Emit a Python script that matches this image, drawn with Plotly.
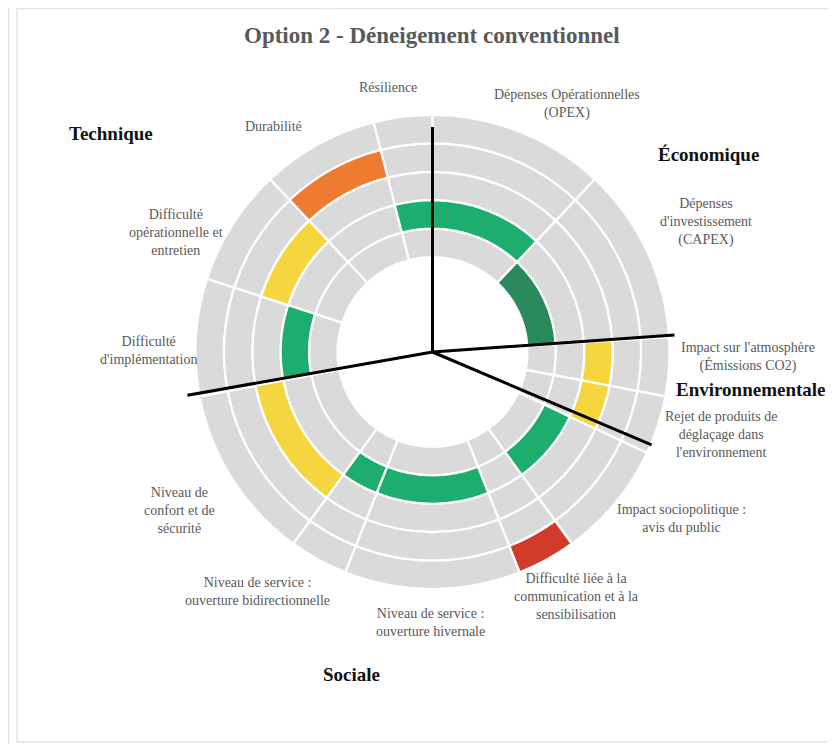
import plotly.graph_objects as go

# ---------------------------------------------------------------------------
# Data
# ---------------------------------------------------------------------------

TITLE = "Option 2 - Déneigement conventionnel"

# criteria, clockwise starting with "Résilience" (just left of 12 o'clock)
criteria = [
    "Résilience",
    "Dépenses Opérationnelles<br>(OPEX)",
    "Dépenses<br>d'investissement<br>(CAPEX)",
    "Impact sur l'atmosphère<br>(Émissions CO2)",
    "Rejet de produits de<br>déglaçage dans<br>l'environnement",
    "Impact sociopolitique :<br>avis du public",
    "Difficulté liée à la<br>communication et à la<br>sensibilisation",
    "Niveau de service :<br>ouverture hivernale",
    "Niveau de service :<br>ouverture bidirectionnelle",
    "Niveau de<br>confort et de<br>sécurité",
    "Difficulté<br>d'implémentation",
    "Difficulté<br>opérationnelle et<br>entretien",
    "Durabilité",
]
# angular weight of every criterion (units of 360/25 degrees)
weights = [1, 3, 3, 1, 1, 2, 1, 3, 1, 3, 2, 2, 2]
# ring holding the coloured cell (1 = innermost, 5 = outermost)
levels = [2, 2, 1, 3, 3, 2, 5, 2, 2, 3, 2, 3, 4]
ratings = ["vert", "vert", "vert foncé", "jaune", "jaune", "vert", "rouge",
           "vert", "vert", "jaune", "vert", "jaune", "orange"]
n_rings = 5

groups = ["Technique", "Économique", "Environnementale", "Sociale"]
# black dividers between groups: angle (deg, clockwise from north), length (ring units)
divider_angles = [0, 86, 113, 260]
divider_lengths = [7.92, 8.54, 8.38, 8.76]

# ---------------------------------------------------------------------------
# Style
# ---------------------------------------------------------------------------
RATING_COLORS = {
    "vert": "#1DAE6E",
    "vert foncé": "#2A8A5B",
    "jaune": "#F6D63E",
    "orange": "#EE7B30",
    "rouge": "#D13B2A",
}
GREY = "#DADADA"
TEXT = "#595959"
SERIF = "Liberation Serif, Times New Roman, serif"

INNER = 3.345      # hole radius in ring units
RMAX = 8.8         # radial range in ring units
PX = 28.4          # pixels per ring unit
OFF = 8            # page body margin of the html page
W, H = 836 - OFF, 744 - OFF
CX, CY = 432.5 - OFF, 352 - OFF

# label placement (screen pixels, centre of the text block)
LABEL_POS = [
    (388, 87), (567, 104), (706, 222), (748, 357), (721, 434), (681, 519),
    (576, 596), (430, 622), (257, 591), (179, 510), (148, 351), (176, 233),
    (273, 126),
]
GROUP_POS = [(111, 133), (708, 155), (751, 389), (351, 674)]


def px(x, y):
    """screen pixel -> paper fraction"""
    return (x - OFF) / W, 1 - (y - OFF) / H


# ---------------------------------------------------------------------------
unit = 360 / sum(weights)
start = -unit * weights[0]
thetas, widths = [], []
acc = start
for w in weights:
    widths.append(w * unit)
    thetas.append((acc + w * unit / 2) % 360)
    acc += w * unit

fig = go.Figure()

# grey background cells
bg_theta, bg_width, bg_base = [], [], []
for t, wd in zip(thetas, widths):
    for k in range(n_rings):
        bg_theta.append(t)
        bg_width.append(wd)
        bg_base.append(INNER + k)
fig.add_trace(go.Barpolar(
    theta=bg_theta, r=[1] * len(bg_theta), base=bg_base, width=bg_width,
    marker=dict(color=GREY, line=dict(color="white", width=2.2)),
    hoverinfo="skip", showlegend=False,
))

# coloured score cells
fig.add_trace(go.Barpolar(
    theta=thetas, r=[1] * len(thetas), base=[INNER + lv - 1 for lv in levels],
    width=widths,
    marker=dict(color=[RATING_COLORS[c] for c in ratings],
                line=dict(color="white", width=2.2)),
    hoverinfo="skip", showlegend=False,
))

# black group dividers
d_r, d_t = [], []
for a, ln in zip(divider_angles, divider_lengths):
    d_r += [0, ln, None]
    d_t += [a, a, None]
fig.add_trace(go.Scatterpolar(
    r=d_r, theta=d_t, mode="lines", line=dict(color="black", width=3),
    hoverinfo="skip", showlegend=False, cliponaxis=False,
))

rad_px = RMAX * PX
tx, ty = px(432.5, 35)
annotations = [dict(
    text=f"<b>{TITLE}</b>", x=tx, y=ty, xref="paper", yref="paper",
    showarrow=False, xanchor="center", yanchor="middle",
    font=dict(family=SERIF, size=23, color=TEXT),
)]
for txt, (x, y) in zip(criteria, LABEL_POS):
    ax, ay = px(x, y)
    annotations.append(dict(
        text=txt, x=ax, y=ay, xref="paper", yref="paper",
        showarrow=False, xanchor="center", yanchor="middle", align="center",
        font=dict(family=SERIF, size=14, color=TEXT),
    ))
for txt, (x, y) in zip(groups, GROUP_POS):
    ax, ay = px(x, y)
    annotations.append(dict(
        text=f"<b>{txt}</b>", x=ax, y=ay, xref="paper", yref="paper",
        showarrow=False, xanchor="center", yanchor="middle",
        font=dict(family=SERIF, size=19, color="#111111"),
    ))

# faint page frame of the original screenshot
frame = dict(color="#E3E3E3", width=1.5)
x17, y7 = px(17, 7)
_, y742 = px(17, 742)
shapes = [
    dict(type="line", xref="paper", yref="paper", x0=0.5 / W, x1=0.5 / W, y0=0, y1=1, line=frame),
    dict(type="line", xref="paper", yref="paper", x0=x17, x1=x17, y0=y742, y1=1, line=frame),
    dict(type="line", xref="paper", yref="paper", x0=x17, x1=1, y0=1 - 0.5 / H, y1=1 - 0.5 / H, line=frame),
    dict(type="line", xref="paper", yref="paper", x0=x17, x1=1, y0=y742, y1=y742, line=frame),
]

fig.update_layout(
    width=W, height=H,
    margin=dict(l=0, r=0, t=0, b=0),
    paper_bgcolor="white", plot_bgcolor="white",
    polar=dict(
        domain=dict(x=[(CX - rad_px) / W, (CX + rad_px) / W],
                    y=[1 - (CY + rad_px) / H, 1 - (CY - rad_px) / H]),
        bgcolor="rgba(0,0,0,0)",
        barmode="overlay",
        radialaxis=dict(visible=False, range=[0, RMAX]),
        angularaxis=dict(visible=False, direction="clockwise", rotation=90),
    ),
    annotations=annotations,
    shapes=shapes,
    showlegend=False,
)

fig.write_html("out.html")
